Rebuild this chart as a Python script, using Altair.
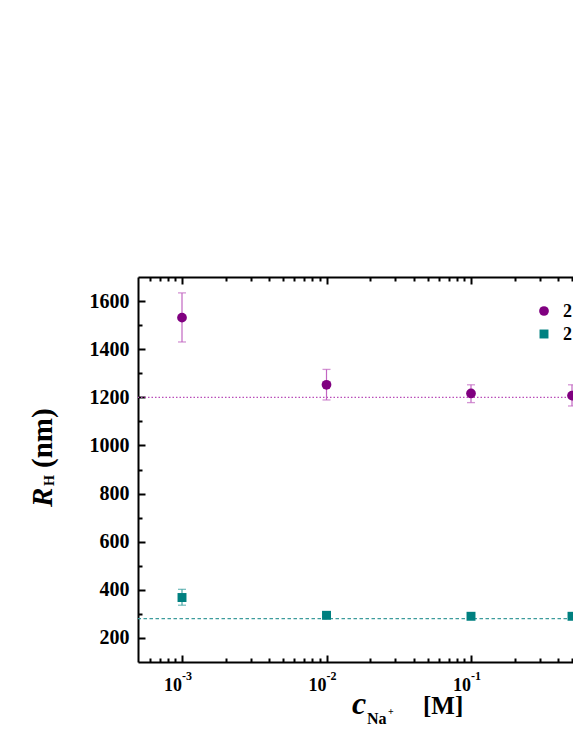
import altair as alt
import pandas as pd

# ---------------- data ----------------
conc = [0.001, 0.01, 0.1, 0.5]
rh_purple = [1531, 1252, 1216, 1207]
rh_purple_lo = [1430, 1189, 1178, 1164]
rh_purple_hi = [1634, 1316, 1252, 1252]
rh_teal = [368, 294, 290, 290]
rh_teal_lo = [336, 289, 285, 285]
rh_teal_hi = [402, 299, 295, 295]
ref_purple = [1200]
ref_teal = [280]
legend_labels = ["2", "2"]
x_major = [0.001, 0.01, 0.1]
x_major_base = ["10", "10", "10"]
x_major_exp = ["-3", "-2", "-1"]
x_minor = [6e-4, 7e-4, 8e-4, 9e-4,
           2e-3, 3e-3, 4e-3, 5e-3, 6e-3, 7e-3, 8e-3, 9e-3,
           2e-2, 3e-2, 4e-2, 5e-2, 6e-2, 7e-2, 8e-2, 9e-2,
           2e-1, 3e-1, 4e-1, 5e-1]
y_major = [200, 400, 600, 800, 1000, 1200, 1400, 1600]
y_minor = [300, 500, 700, 900, 1100, 1300, 1500]

PURPLE = "#800080"
PURPLE_ERR = "#c266c2"
PURPLE_REF = "#b94db9"
TEAL = "#008080"
TEAL_ERR = "#45a5a5"
TEAL_REF = "#3d9c9c"
FONT = "Liberation Serif"

W, H = 435, 385
xs = alt.Scale(type="log", domain=[4.96e-4, 0.508])
ys = alt.Scale(domain=[100, 1700], nice=False, zero=False)

df_p = pd.DataFrame({"c": conc, "r": rh_purple, "lo": rh_purple_lo, "hi": rh_purple_hi})
df_t = pd.DataFrame({"c": conc, "r": rh_teal, "lo": rh_teal_lo, "hi": rh_teal_hi})
caps_p = pd.DataFrame({"c": conc + conc, "v": rh_purple_lo + rh_purple_hi})
caps_t = pd.DataFrame({"c": conc + conc, "v": rh_teal_lo + rh_teal_hi})


def xaxis(orient, kind):
    common = dict(orient=orient, grid=False, title=None, labels=False)
    if kind == "domain":
        return alt.Axis(domain=True, domainWidth=2, domainColor="black", ticks=False, **common)
    if kind == "major":
        return alt.Axis(domain=False, ticks=True, tickSize=7, tickWidth=2, tickColor="black",
                        offset=-7, values=x_major, **common)
    return alt.Axis(domain=False, ticks=True, tickSize=4, tickWidth=2, tickColor="black",
                    offset=-4, values=x_minor, **common)


y_main = alt.Axis(orient="left", grid=False, title=None, domain=True, domainWidth=2,
                  domainColor="black", ticks=False, values=y_major, format="d",
                  labelFont=FONT, labelFontSize=20, labelFontWeight="bold",
                  labelColor="black", labelPadding=9)
y_major_ax = alt.Axis(orient="left", grid=False, title=None, domain=False, labels=False,
                      ticks=True, tickSize=7, tickWidth=2, tickColor="black", offset=-7,
                      values=y_major)
y_minor_ax = alt.Axis(orient="left", grid=False, title=None, domain=False, labels=False,
                      ticks=True, tickSize=4, tickWidth=2, tickColor="black", offset=-4,
                      values=y_minor)

ref_p = alt.Chart(pd.DataFrame({"v": ref_purple})).mark_rule(
    color=PURPLE_REF, strokeWidth=1.2, strokeDash=[1.5, 2]).encode(
    y=alt.Y("v:Q", scale=ys, axis=None))
ref_t = alt.Chart(pd.DataFrame({"v": ref_teal})).mark_rule(
    color=TEAL_REF, strokeWidth=1.2, strokeDash=[3.5, 2.5]).encode(
    y=alt.Y("v:Q", scale=ys, axis=None))

err_p = alt.Chart(df_p).mark_rule(color=PURPLE_ERR, strokeWidth=1.2).encode(
    x=alt.X("c:Q", scale=xs, axis=xaxis("bottom", "domain")),
    y=alt.Y("lo:Q", scale=ys, axis=y_main), y2="hi:Q")
cap_p = alt.Chart(caps_p).mark_tick(color=PURPLE_ERR, orient="horizontal", size=8,
                                    thickness=1.3).encode(
    x=alt.X("c:Q", scale=xs, axis=xaxis("bottom", "major")),
    y=alt.Y("v:Q", scale=ys, axis=y_major_ax))
pts_p = alt.Chart(df_p).mark_point(shape="circle", filled=True, size=95, color=PURPLE,
                                   opacity=1).encode(
    x=alt.X("c:Q", scale=xs, axis=xaxis("bottom", "minor")),
    y=alt.Y("r:Q", scale=ys, axis=y_minor_ax))

err_t = alt.Chart(df_t).mark_rule(color=TEAL_ERR, strokeWidth=1.2).encode(
    x=alt.X("c:Q", scale=xs, axis=xaxis("top", "domain")),
    y=alt.Y("lo:Q", scale=ys, axis=None), y2="hi:Q")
cap_t = alt.Chart(caps_t).mark_tick(color=TEAL_ERR, orient="horizontal", size=8,
                                    thickness=1.3).encode(
    x=alt.X("c:Q", scale=xs, axis=xaxis("top", "major")),
    y=alt.Y("v:Q", scale=ys, axis=None))
pts_t = alt.Chart(df_t).mark_point(shape="square", filled=True, size=80, color=TEAL,
                                   opacity=1).encode(
    x=alt.X("c:Q", scale=xs, axis=xaxis("top", "minor")),
    y=alt.Y("r:Q", scale=ys, axis=None))

ticklab = pd.DataFrame({"c": x_major, "b": x_major_base, "e": x_major_exp})
lab_base = alt.Chart(ticklab).mark_text(align="right", baseline="alphabetic", font=FONT,
                                        fontSize=18, fontWeight="bold", color="black",
                                        dx=0).encode(
    x=alt.X("c:Q", scale=xs, axis=None), y=alt.value(414), text="b:N")
lab_exp = alt.Chart(ticklab).mark_text(align="left", baseline="alphabetic", font=FONT,
                                       fontSize=12, fontWeight="bold", color="black",
                                       dx=0).encode(
    x=alt.X("c:Q", scale=xs, axis=None), y=alt.value(403), text="e:N")


def txt(t, x, y, size, style="normal", angle=0, align="left"):
    kw = dict(align=align, baseline="alphabetic", font=FONT, fontSize=size,
              fontWeight="bold", fontStyle=style, color="black")
    if angle:
        kw["angle"] = angle
    return alt.Chart(pd.DataFrame({"t": [t]})).mark_text(**kw).encode(
        x=alt.value(x), y=alt.value(y), text="t:N")


titles = [
    txt("R", -86, 230, 29, "italic", 270),
    txt("H", -84, 209, 14, "normal", 270),
    txt("(nm)", -86, 191, 29, "normal", 270),
    txt("c", 214, 437, 32, "italic"),
    txt("Na", 229, 447, 16),
    txt("+", 250, 438, 10),
    txt("[M]", 285, 437, 25),
]

leg_c = alt.Chart(pd.DataFrame({"t": [legend_labels[0]]})).mark_point(
    shape="circle", filled=True, size=95, color=PURPLE, opacity=1).encode(
    x=alt.value(406), y=alt.value(34))
leg_s = alt.Chart(pd.DataFrame({"t": [legend_labels[1]]})).mark_point(
    shape="square", filled=True, size=80, color=TEAL, opacity=1).encode(
    x=alt.value(406), y=alt.value(57))
leg_t1 = txt(legend_labels[0], 425, 40, 18)
leg_t2 = txt(legend_labels[1], 425, 63, 18)

chart = alt.layer(
    ref_p, ref_t,
    err_t, cap_t, pts_t,
    err_p, cap_p, pts_p,
    lab_base, lab_exp,
    *titles,
    leg_c, leg_s, leg_t1, leg_t2,
).resolve_axis(x="independent", y="independent").properties(
    width=W, height=H,
    autosize=alt.AutoSizeParams(type="none"),
    padding={"left": 130, "top": 269, "right": 0, "bottom": 80},
).configure_view(stroke=None)

chart.save("out.html", embed_options={"renderer": "svg", "actions": False})
